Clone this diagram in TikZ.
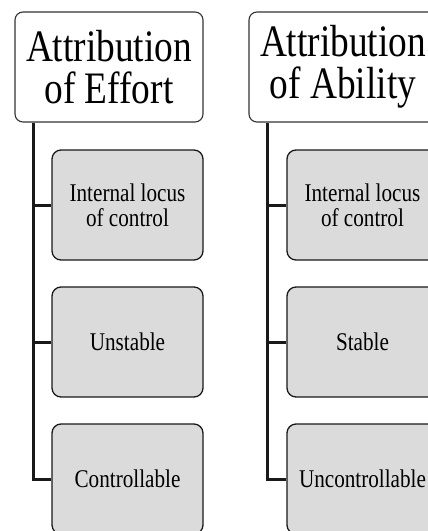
\documentclass[tikz,border=0pt]{standalone}
\usepackage{fontspec}
\setmainfont[FakeStretch=0.83]{Liberation Serif}
\begin{document}
\begin{tikzpicture}[x=1pt,y=-1pt,
  headbox/.style={draw=black!80, line width=1.1pt, rounded corners=8pt, fill=white,
    minimum width=188pt, minimum height=110pt, align=center, inner sep=0pt,
    font=\fontsize{45}{42}\selectfont},
  leafbox/.style={draw=black!90, line width=1.3pt, rounded corners=9pt, fill=black!14,
    minimum width=151pt, minimum height=110pt, align=center, inner sep=0pt,
    font=\fontsize{25.5}{25}\selectfont},
  trunk/.style={line width=3pt, draw=black!90}]
\useasboundingbox (0,0) rectangle (428,531);

% effort column
\node[headbox] (he) at (109,67) {Attribution\\of Effort};
\node[leafbox] (e1) at (127.5,205) {Internal locus\\of control};
\node[leafbox] (e2) at (127.5,342) {Unstable};
\node[leafbox] (e3) at (127.5,479) {Controllable};
\draw[trunk] (33,0 |- he.south) -- (33,0 |- e3.west) -- (e3.west);
\draw[trunk] (33,0 |- e1.west) -- (e1.west);
\draw[trunk] (33,0 |- e2.west) -- (e2.west);

% ability column
\node[headbox] (ha) at (343,67) {Attribution\\of Ability};
\node[leafbox] (a1) at (362.5,205) {Internal locus\\of control};
\node[leafbox] (a2) at (362.5,342) {Stable};
\node[leafbox] (a3) at (362.5,479) {Uncontrollable};
\draw[trunk] (267,0 |- ha.south) -- (267,0 |- a3.west) -- (a3.west);
\draw[trunk] (267,0 |- a1.west) -- (a1.west);
\draw[trunk] (267,0 |- a2.west) -- (a2.west);
\end{tikzpicture}
\end{document}
